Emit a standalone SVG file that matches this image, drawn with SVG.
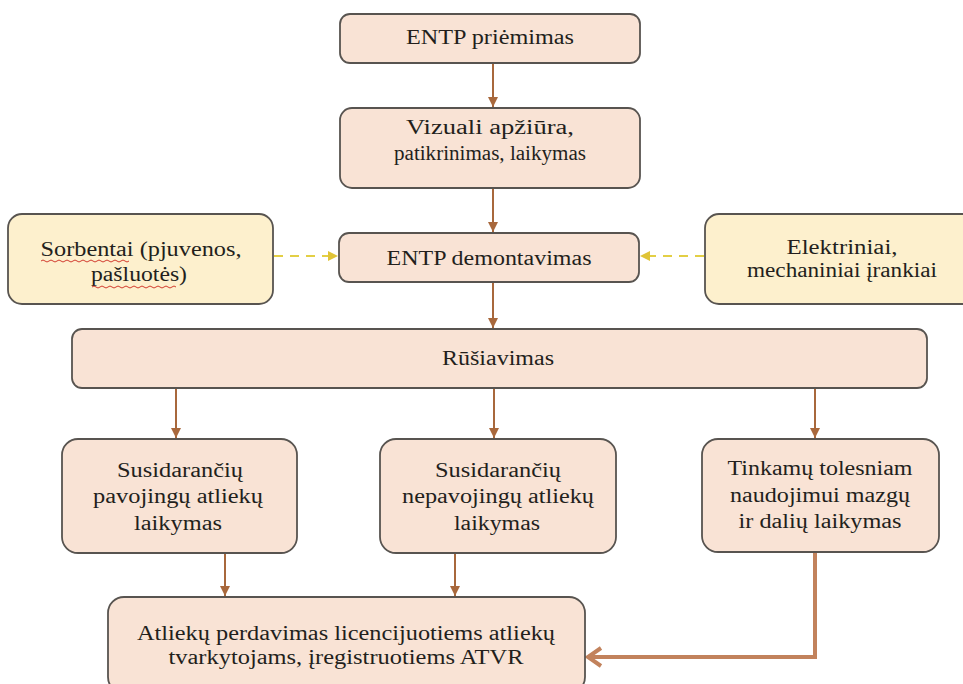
<svg xmlns="http://www.w3.org/2000/svg" width="963" height="684" viewBox="0 0 963 684">
  <defs>
    <style>
      .box { fill: #f9e3d5; stroke: #585450; stroke-width: 1.8; }
      .ybox { fill: #fdf0cd; stroke: #585450; stroke-width: 1.8; }
      .t { font-size: 20px; fill: #231f1c; text-anchor: middle; }
      .arr { stroke: #a8683c; stroke-width: 2; fill: none; marker-end: url(#ah); }
      .dash { stroke: #e3cf45; stroke-width: 2.2; fill: none; stroke-dasharray: 9 7; marker-end: url(#ahy); }
      .fat { stroke: #c2825c; stroke-width: 4; fill: none; stroke-linejoin: miter; }
      .sq { stroke: #d23b2e; stroke-width: 1; fill: none; }
    </style>
    <marker id="ah" markerUnits="userSpaceOnUse" markerWidth="12" markerHeight="12" refX="10" refY="5" orient="auto">
      <path d="M0,0 L10,5 L0,10 Z" fill="#a8683c"/>
    </marker>
    <marker id="ahy" markerUnits="userSpaceOnUse" markerWidth="12" markerHeight="12" refX="10" refY="5" orient="auto">
      <path d="M0,0 L10,5 L0,10 Z" fill="#e0c437"/>
    </marker>
  </defs>
  <rect width="963" height="684" fill="#ffffff"/>

  <g id="connectors">
    <line class="arr" x1="493" y1="63" x2="493" y2="107"/>
    <line class="arr" x1="493" y1="188" x2="493" y2="232"/>
    <line class="arr" x1="493" y1="282" x2="493" y2="328"/>
    <line class="dash" x1="274" y1="256" x2="338" y2="256"/>
    <line class="dash" x1="704" y1="256" x2="640" y2="256"/>
    <line class="arr" x1="176" y1="388" x2="176" y2="438"/>
    <line class="arr" x1="494" y1="388" x2="494" y2="438"/>
    <line class="arr" x1="815" y1="388" x2="815" y2="438"/>
    <line class="arr" x1="225" y1="553" x2="225" y2="596"/>
    <line class="arr" x1="455" y1="553" x2="455" y2="596"/>
    <polyline class="fat" points="815,552 815,657 588,657"/>
    <polyline class="fat" points="601,648 588,657 601,666"/>
  </g>

  <g font-family="Liberation Serif, DejaVu Serif, serif">
  <g id="n-priemimas">
    <rect class="box" x="340" y="14" width="300" height="49" rx="10"/>
    <text class="t" x="490" y="44" textLength="168" lengthAdjust="spacingAndGlyphs">ENTP priėmimas</text>
  </g>

  <g id="n-apziura">
    <rect class="box" x="340" y="108" width="300" height="80" rx="12"/>
    <text class="t" x="490" y="134" textLength="168" lengthAdjust="spacingAndGlyphs">Vizuali apžiūra,</text>
    <text class="t" x="490" y="160" textLength="192" lengthAdjust="spacingAndGlyphs">patikrinimas, laikymas</text>
  </g>

  <g id="n-sorbentai">
    <rect class="ybox" x="8" y="214" width="265" height="90" rx="14"/>
    <text class="t" x="141" y="256" textLength="201" lengthAdjust="spacingAndGlyphs">Sorbentai (pjuvenos,</text>
    <text class="t" x="139" y="281" textLength="96" lengthAdjust="spacingAndGlyphs">pašluotės)</text>
    <path class="sq" d="M41,261 q2,-2 4,0 t4,0 t4,0 t4,0 t4,0 t4,0 t4,0 t4,0 t4,0 t4,0 t4,0 t4,0 t4,0 t4,0 t4,0 t4,0 t4,0 t4,0 t4,0 t4,0 t4,0 t4,0"/>
    <path class="sq" d="M92,287 q2,-2 4,0 t4,0 t4,0 t4,0 t4,0 t4,0 t4,0 t4,0 t4,0 t4,0 t4,0 t4,0 t4,0 t4,0 t4,0 t4,0 t4,0 t4,0 t4,0 t4,0 t4,0"/>
  </g>

  <g id="n-demontavimas">
    <rect class="box" x="339" y="233" width="300" height="49" rx="10"/>
    <text class="t" x="489" y="265" textLength="205" lengthAdjust="spacingAndGlyphs">ENTP demontavimas</text>
  </g>

  <g id="n-irankiai">
    <rect class="ybox" x="705" y="214" width="276" height="90" rx="14"/>
    <text class="t" x="842" y="254" textLength="111" lengthAdjust="spacingAndGlyphs">Elektriniai,</text>
    <text class="t" x="842" y="277" textLength="190" lengthAdjust="spacingAndGlyphs">mechaniniai įrankiai</text>
  </g>

  <g id="n-rusiavimas">
    <rect class="box" x="72" y="329" width="855" height="59" rx="10"/>
    <text class="t" x="498" y="365" textLength="112" lengthAdjust="spacingAndGlyphs">Rūšiavimas</text>
  </g>

  <g id="n-pavojingu">
    <rect class="box" x="62" y="439" width="235" height="114" rx="16"/>
    <text class="t" x="180" y="477" textLength="126" lengthAdjust="spacingAndGlyphs">Susidarančių</text>
    <text class="t" x="178" y="503" textLength="170" lengthAdjust="spacingAndGlyphs">pavojingų atliekų</text>
    <text class="t" x="178" y="530" textLength="88" lengthAdjust="spacingAndGlyphs">laikymas</text>
  </g>

  <g id="n-nepavojingu">
    <rect class="box" x="380" y="439" width="236" height="114" rx="16"/>
    <text class="t" x="498" y="477" textLength="126" lengthAdjust="spacingAndGlyphs">Susidarančių</text>
    <text class="t" x="498" y="503" textLength="192" lengthAdjust="spacingAndGlyphs">nepavojingų atliekų</text>
    <text class="t" x="497" y="530" textLength="86" lengthAdjust="spacingAndGlyphs">laikymas</text>
  </g>

  <g id="n-tinkamu">
    <rect class="box" x="702" y="439" width="237" height="113" rx="16"/>
    <text class="t" x="820" y="475" textLength="185" lengthAdjust="spacingAndGlyphs">Tinkamų tolesniam</text>
    <text class="t" x="820" y="502" textLength="180" lengthAdjust="spacingAndGlyphs">naudojimui mazgų</text>
    <text class="t" x="820" y="528" textLength="163" lengthAdjust="spacingAndGlyphs">ir dalių laikymas</text>
  </g>

  <g id="n-perdavimas">
    <rect class="box" x="108" y="597" width="477" height="96" rx="16"/>
    <text class="t" x="346" y="640" textLength="418" lengthAdjust="spacingAndGlyphs">Atliekų perdavimas licencijuotiems atliekų</text>
    <text class="t" x="346" y="664" textLength="355" lengthAdjust="spacingAndGlyphs">tvarkytojams, įregistruotiems ATVR</text>
  </g>
  </g>
</svg>
